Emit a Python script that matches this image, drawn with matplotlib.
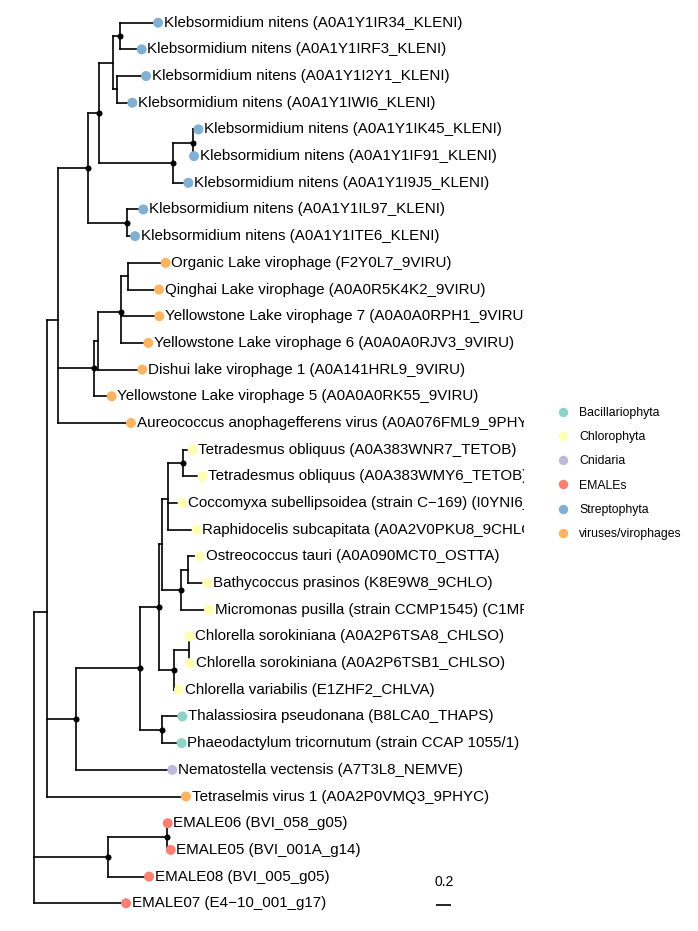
import numpy as np
import matplotlib.pyplot as plt
from matplotlib.lines import Line2D

plt.rcParams['font.family'] = ['Liberation Sans', 'DejaVu Sans']

# ---------------- 数据: 树的边 (父节点, 子节点, 枝长) ----------------
edge_parent = ['n1', 'n1', 'n1', 'n2', 'n2', 'n2', 'n3', 'n3', 'n3', 'n4', 'n4',
               'n5', 'n5', 'n6', 'n6', 'n7', 'n7', 'n8', 'n8', 'n9', 'n9', 'n10', 'n10',
               'n11', 'n11', 'n12', 'n12', 'n13', 'n13', 'n14', 'n14', 'n14', 'n15', 'n15',
               'n16', 'n16', 'n17', 'n17', 'n18', 'n18', 'n19', 'n19', 'n20', 'n20', 'n20',
               'n21', 'n21', 'n22', 'n22', 'n23', 'n23', 'n24', 'n24', 'n25', 'n25',
               'n26', 'n26', 'n27', 'n27', 'n28', 'n28']
edge_child = ['n2', 'n27', 't34', 'n3', 'n16', 't30', 'n4', 'n12', 't16', 'n5', 'n11',
              'n6', 'n9', 'n7', 'n8', 't1', 't2', 't3', 't4', 'n10', 't7', 't5', 't6',
              't8', 't9', 'n13', 't15', 'n14', 't14', 'n15', 't12', 't13', 't10', 't11',
              'n17', 't29', 'n18', 'n26', 'n19', 'n24', 'n20', 'n22', 'n21', 't19', 't20',
              't17', 't18', 'n23', 't23', 't21', 't22', 'n25', 't26', 't24', 't25',
              't27', 't28', 'n28', 't33', 't31', 't32']
edge_length = [0.165, 0.987, 1.223, 0.147, 0.387, 1.857, 0.408, 0.484, 0.977, 0.147, 0.512,
               0.187, 0.987, 0.089, 0.053, 0.507, 0.289, 0.383, 0.200, 0.259, 0.200, 0.075, 0.017,
               0.221, 0.111, 0.057, 0.236, 0.299, 0.587, 0.093, 0.515, 0.368, 0.507, 0.417,
               0.857, 1.288, 0.253, 0.289, 0.044, 0.200, 0.080, 0.249, 0.192, 0.192, 0.379,
               0.133, 0.267, 0.097, 0.373, 0.156, 0.253, 0.200, 0.067, 0.007, 0.013,
               0.275, 0.267, 0.779, 0.543, 0.013, 0.053]

# 支持度高的内部节点 (黑点)
supported_nodes = ['n4', 'n5', 'n7', 'n9', 'n10', 'n11', 'n12', 'n14', 'n16', 'n17',
                   'n18', 'n21', 'n22', 'n24', 'n26', 'n27', 'n28']

tip_ids = ['t%d' % i for i in range(1, 35)]
tip_labels = [
    'Klebsormidium nitens (A0A1Y1IR34_KLENI)',
    'Klebsormidium nitens (A0A1Y1IRF3_KLENI)',
    'Klebsormidium nitens (A0A1Y1I2Y1_KLENI)',
    'Klebsormidium nitens (A0A1Y1IWI6_KLENI)',
    'Klebsormidium nitens (A0A1Y1IK45_KLENI)',
    'Klebsormidium nitens (A0A1Y1IF91_KLENI)',
    'Klebsormidium nitens (A0A1Y1I9J5_KLENI)',
    'Klebsormidium nitens (A0A1Y1IL97_KLENI)',
    'Klebsormidium nitens (A0A1Y1ITE6_KLENI)',
    'Organic Lake virophage (F2Y0L7_9VIRU)',
    'Qinghai Lake virophage (A0A0R5K4K2_9VIRU)',
    'Yellowstone Lake virophage 7 (A0A0A0RPH1_9VIRU)',
    'Yellowstone Lake virophage 6 (A0A0A0RJV3_9VIRU)',
    'Dishui lake virophage 1 (A0A141HRL9_9VIRU)',
    'Yellowstone Lake virophage 5 (A0A0A0RK55_9VIRU)',
    'Aureococcus anophagefferens virus (A0A076FML9_9PHYC)',
    'Tetradesmus obliquus (A0A383WNR7_TETOB)',
    'Tetradesmus obliquus (A0A383WMY6_TETOB)',
    'Coccomyxa subellipsoidea (strain C\u2212169) (I0YNI6_COCSU)',
    'Raphidocelis subcapitata (A0A2V0PKU8_9CHLO)',
    'Ostreococcus tauri (A0A090MCT0_OSTTA)',
    'Bathycoccus prasinos (K8E9W8_9CHLO)',
    'Micromonas pusilla (strain CCMP1545) (C1MPQ2_MICPC)',
    'Chlorella sorokiniana (A0A2P6TSA8_CHLSO)',
    'Chlorella sorokiniana (A0A2P6TSB1_CHLSO)',
    'Chlorella variabilis (E1ZHF2_CHLVA)',
    'Thalassiosira pseudonana (B8LCA0_THAPS)',
    'Phaeodactylum tricornutum (strain CCAP 1055/1) (B7FZ00_PHATC)',
    'Nematostella vectensis (A7T3L8_NEMVE)',
    'Tetraselmis virus 1 (A0A2P0VMQ3_9PHYC)',
    'EMALE06 (BVI_058_g05)',
    'EMALE05 (BVI_001A_g14)',
    'EMALE08 (BVI_005_g05)',
    'EMALE07 (E4\u221210_001_g17)',
]
tip_groups = (['Streptophyta'] * 9 + ['viruses/virophages'] * 7 + ['Chlorophyta'] * 10 +
              ['Bacillariophyta'] * 2 + ['Cnidaria'] + ['viruses/virophages'] + ['EMALEs'] * 4)

group_names = ['Bacillariophyta', 'Chlorophyta', 'Cnidaria', 'EMALEs', 'Streptophyta', 'viruses/virophages']
group_colors = ['#8DD3C7', '#FFFFB3', '#BEBADA', '#FB8072', '#80B1D3', '#FDB462']
color_map = dict(zip(group_names, group_colors))

scale_len = 0.2

# ---------------- 计算坐标 ----------------
children = {}
blen = {}
for p, c, l in zip(edge_parent, edge_child, edge_length):
    children.setdefault(p, []).append(c)
    blen[c] = l

xpos = {'n1': 0.0}
ypos = {}
for i, t in enumerate(tip_ids):
    ypos[t] = i


def layout(node):
    for c in children.get(node, []):
        xpos[c] = xpos[node] + blen[c]
        layout(c)
    if node in children:
        ypos[node] = np.mean([ypos[c] for c in children[node]])


layout('n1')

# ---------------- 画图 ----------------
fig = plt.figure(figsize=(6.98, 9.31), dpi=100)
ax = fig.add_axes([0, 0, 524 / 698, 1])

px_unit = 75.0
ax.set_xlim(-34.3 / px_unit, (524 - 34.3) / px_unit)
ax.set_ylim(34.04, -0.851)
ax.axis('off')

lc = dict(color='black', lw=1.2, solid_capstyle='projecting', zorder=1)
for node, kids in children.items():
    ys = [ypos[c] for c in kids]
    ax.plot([xpos[node], xpos[node]], [min(ys), max(ys)], **lc)
    for c in kids:
        ax.plot([xpos[node], xpos[c]], [ypos[c], ypos[c]], **lc)

ax.scatter([xpos[n] for n in supported_nodes], [ypos[n] for n in supported_nodes],
           s=19, color='black', zorder=3, linewidths=0)

tx = [xpos[t] for t in tip_ids]
ty = [ypos[t] for t in tip_ids]
ax.scatter(tx, ty, s=52, c=[color_map[g] for g in tip_groups], zorder=4, linewidths=0)

for x, y, lab in zip(tx, ty, tip_labels):
    ax.text(x + 0.075, y, lab, fontsize=10.9, va='center', ha='left', clip_on=True, zorder=5)

# 比例尺
sb_x = 5.36
sb_y = 33.07
ax.plot([sb_x, sb_x + scale_len], [sb_y, sb_y], color='black', lw=1.2, solid_capstyle='butt')
ax.text(sb_x + scale_len / 2, sb_y - 0.6, str(scale_len), fontsize=10, ha='center', va='bottom')

# 图例
handles = [Line2D([], [], marker='o', ls='', ms=6.8, color=c, markeredgewidth=0) for c in group_colors]
fig.legend(handles, group_names, loc='center left', bbox_to_anchor=(557 / 698, 1 - 473.5 / 931),
           frameon=False, fontsize=8.8, handlelength=1.0, handletextpad=0.8,
           labelspacing=1.0, borderpad=0, borderaxespad=0)

plt.savefig('out.png', dpi=100)
